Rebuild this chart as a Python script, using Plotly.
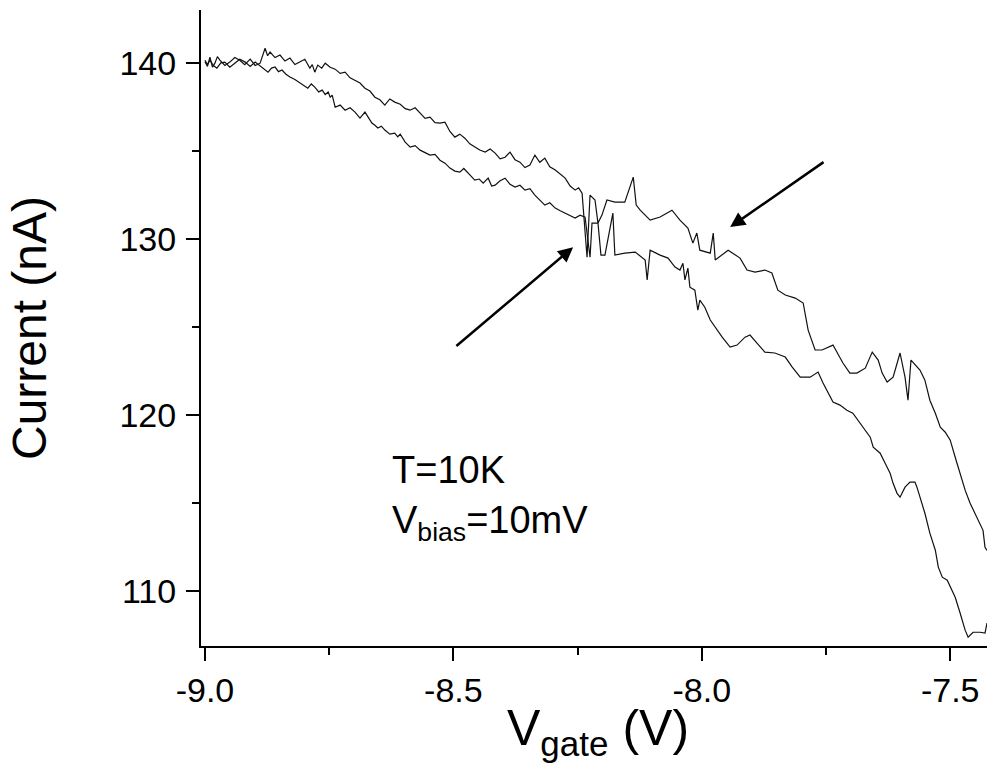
import plotly.graph_objects as go

# Upper branch of the sweep (gate voltage V, current nA)
upper_v = [-9.000, -8.995, -8.990, -8.985, -8.980, -8.975, -8.970, -8.960, -8.950, -8.940,
           -8.930, -8.920, -8.909, -8.899, -8.889, -8.884, -8.879, -8.874, -8.869, -8.859,
           -8.849, -8.839, -8.829, -8.819, -8.809, -8.799, -8.789, -8.784, -8.779, -8.773,
           -8.765, -8.758, -8.748, -8.738, -8.728, -8.718, -8.708, -8.698, -8.688, -8.678,
           -8.668, -8.658, -8.648, -8.638, -8.628, -8.618, -8.607, -8.597, -8.587, -8.577,
           -8.567, -8.557, -8.547, -8.537, -8.527, -8.517, -8.507, -8.497, -8.487, -8.477,
           -8.467, -8.457, -8.447, -8.436, -8.426, -8.416, -8.406, -8.396, -8.386, -8.376,
           -8.366, -8.356, -8.346, -8.336, -8.326, -8.316, -8.306, -8.295, -8.285, -8.275,
           -8.265, -8.255, -8.248, -8.241,
           -8.231, -8.225, -8.215, -8.209, -8.201,
           -8.191, -8.175, -8.155, -8.138, -8.132, -8.124, -8.104, -8.084, -8.060, -8.044,
           -8.028, -8.018, -8.010, -8.004, -7.983, -7.977, -7.973, -7.947, -7.923, -7.909,
           -7.893, -7.873, -7.859, -7.847, -7.832, -7.812, -7.796, -7.786, -7.772, -7.758,
           -7.736, -7.716, -7.702, -7.688, -7.671, -7.657, -7.645, -7.637, -7.627, -7.615,
           -7.601, -7.591, -7.585, -7.579, -7.561, -7.551, -7.541, -7.530, -7.520, -7.510,
           -7.500, -7.490, -7.480, -7.470, -7.460, -7.450, -7.444, -7.434, -7.430, -7.426]
upper_i = [140.06, 139.80, 140.32, 139.75, 139.98, 140.35, 140.15, 139.85, 140.04, 140.30,
           140.15, 139.90, 140.21, 139.85, 139.98, 140.40, 140.83, 140.40, 140.61, 140.30,
           140.44, 140.10, 140.27, 139.90, 140.04, 140.20, 139.70, 139.90, 139.47, 139.87,
           139.70, 139.98, 139.75, 139.64, 139.40, 139.47, 139.15, 139.02, 138.85, 138.56,
           138.40, 138.05, 137.90, 137.60, 137.95, 137.77, 137.65, 137.40, 137.31, 137.45,
           137.14, 136.85, 136.92, 136.60, 136.58, 136.63, 136.10, 135.78, 135.95, 135.72,
           135.40, 135.21, 135.05, 134.93, 135.10, 134.87, 134.55, 134.64, 134.93, 134.50,
           134.36, 134.05, 134.19, 134.76, 134.35, 134.59, 134.10, 133.91, 133.70, 133.45,
           133.00, 132.77, 132.90, 132.60,
           128.96, 132.49, 132.21, 130.90, 131.35,
           132.21, 132.09, 132.09, 133.51, 131.92, 131.63, 131.07, 131.24, 131.63, 131.07,
           130.61, 129.76, 130.33, 129.36, 129.19, 130.33, 128.80, 129.36, 128.91, 128.23,
           128.11, 128.23, 128.06, 127.09, 126.81, 126.64, 126.36, 124.82, 123.69, 123.69,
           123.97, 122.95, 122.38, 122.38, 122.66, 123.57, 123.12, 122.38, 121.87, 122.15,
           123.52, 122.15, 120.84, 123.12, 122.55, 121.98, 120.84, 120.10, 119.31, 119.02,
           118.57, 117.60, 116.69, 115.73, 114.99, 114.42, 114.02, 113.45, 112.48, 112.31]

# Lower branch of the sweep
lower_v = [-9.000, -8.995, -8.990, -8.983, -8.976, -8.968, -8.960, -8.950, -8.940, -8.930,
           -8.919, -8.909, -8.899, -8.892, -8.885, -8.879, -8.873, -8.866, -8.859, -8.852,
           -8.845, -8.837, -8.829, -8.819, -8.809, -8.801, -8.793, -8.786, -8.779, -8.771,
           -8.764, -8.758, -8.752, -8.748, -8.744, -8.738, -8.728, -8.718, -8.708, -8.698,
           -8.688, -8.678, -8.671, -8.664, -8.658, -8.652, -8.645, -8.638, -8.628, -8.618,
           -8.612, -8.607, -8.597, -8.587, -8.577, -8.567, -8.557, -8.547, -8.537, -8.527,
           -8.517, -8.507, -8.497, -8.487, -8.479, -8.471, -8.464, -8.457, -8.448, -8.440,
           -8.430, -8.423, -8.416, -8.406, -8.396, -8.386, -8.376, -8.366, -8.356, -8.346,
           -8.336, -8.326, -8.316, -8.306, -8.295, -8.285, -8.275, -8.265, -8.255, -8.245,
           -8.235, -8.225, -8.221,
           -8.209, -8.203, -8.195, -8.179, -8.175, -8.155, -8.134, -8.114, -8.110, -8.104,
           -8.084, -8.068, -8.054, -8.044, -8.038, -8.034, -8.028, -8.024, -8.014, -8.008,
           -8.004, -7.994, -7.983, -7.973, -7.959, -7.943, -7.929, -7.913, -7.903, -7.889,
           -7.873, -7.853, -7.832, -7.818, -7.802, -7.782, -7.766, -7.756, -7.746, -7.736,
           -7.722, -7.708, -7.696, -7.681, -7.671, -7.661, -7.655, -7.641, -7.631, -7.621,
           -7.615, -7.607, -7.601, -7.591, -7.581, -7.571, -7.567, -7.561, -7.551, -7.541,
           -7.530, -7.524, -7.516, -7.506, -7.500, -7.490, -7.480, -7.470, -7.464, -7.454,
           -7.440, -7.430, -7.426]
lower_i = [140.15, 139.90, 140.15, 139.85, 139.70, 140.00, 140.04, 139.75, 139.98, 140.20,
           140.04, 139.80, 140.04, 139.90, 139.76, 139.60, 139.47, 139.70, 139.76, 139.50,
           139.59, 139.35, 139.19, 139.05, 138.85, 138.70, 138.56, 138.80, 138.62, 138.35,
           138.45, 138.20, 138.34, 138.05, 138.17, 137.48, 137.60, 137.31, 137.45, 137.20,
           136.86, 137.20, 136.90, 136.58, 136.45, 136.30, 136.40, 136.18, 135.95, 136.01,
           135.80, 135.95, 135.50, 135.21, 135.30, 135.04, 134.90, 134.76, 134.80, 134.47,
           134.30, 134.02, 133.85, 133.79, 134.00, 133.79, 133.55, 133.34, 133.40, 133.17,
           133.45, 133.00, 133.05, 133.30, 133.45, 133.10, 132.94, 133.05, 132.77, 132.85,
           132.49, 132.20, 131.92, 132.05, 131.75, 131.60, 131.47, 131.30, 131.18, 131.35,
           131.24, 128.96, 130.90,
           130.90, 129.08, 129.08, 131.47, 129.08, 129.19, 129.25, 128.80, 127.67, 129.36,
           129.08, 128.91, 128.40, 128.23, 128.62, 127.67, 128.34, 127.26, 127.09, 125.95,
           126.52, 126.12, 125.39, 124.99, 124.42, 123.86, 123.97, 124.42, 124.54, 124.08,
           123.57, 123.52, 123.29, 122.72, 122.15, 122.15, 122.44, 121.81, 121.24, 120.73,
           120.56, 120.27, 120.10, 119.53, 119.14, 118.74, 118.17, 117.83, 117.26, 116.69,
           116.12, 115.55, 115.33, 115.90, 116.19, 116.19, 115.90, 115.33, 114.42, 113.29,
           112.32, 111.36, 110.79, 110.62, 110.22, 109.65, 108.74, 107.78, 107.38, 107.66,
           107.66, 107.61, 108.18]

x_tickvals = [-9.0, -8.5, -8.0, -7.5]
x_ticktext = ["-9.0", "-8.5", "-8.0", "-7.5"]
y_tickvals = [110, 120, 130, 140]
y_ticktext = ["110", "120", "130", "140"]

FONT = "Liberation Sans, Arial, sans-serif"

fig = go.Figure()
for xv, yv in [(upper_v, upper_i), (lower_v, lower_i)]:
    fig.add_trace(go.Scatter(x=xv, y=yv, mode="lines",
                             line=dict(color="#111111", width=1.2),
                             showlegend=False, hoverinfo="skip"))

axis_common = dict(showgrid=False, zeroline=False, showline=True, linecolor="black",
                   linewidth=2, ticks="outside", ticklen=13, tickwidth=2, tickcolor="black",
                   tickfont=dict(family=FONT, size=34, color="black"))

fig.update_xaxes(range=[-9.008, -7.426], tickvals=x_tickvals, ticktext=x_ticktext,
                 minor=dict(ticks="outside", ticklen=7, tickwidth=2, tickcolor="black",
                            dtick=0.25, tick0=-9.0, showgrid=False),
                 **axis_common)
fig.update_yaxes(range=[106.88, 143.0], tickvals=y_tickvals, ticktext=y_ticktext,
                 ticklabelstandoff=3,
                 minor=dict(ticks="outside", ticklen=7, tickwidth=2, tickcolor="black",
                            dtick=5, tick0=110, showgrid=False),
                 title=dict(text="Current (nA)",
                            font=dict(family=FONT, size=48, color="black"), standoff=58),
                 **axis_common)

annotations = [
    dict(x=0.3868, y=-0.082, xref="paper", yref="paper", text="V<sub>gate</sub> (V)",
         showarrow=False, xanchor="left", yanchor="top",
         font=dict(family=FONT, size=50, color="black")),
    dict(x=-8.628, y=116.87, xref="x", yref="y", text="T=10K", showarrow=False,
         xanchor="left", yanchor="middle", font=dict(family=FONT, size=38, color="black")),
    dict(x=-8.628, y=113.85, xref="x", yref="y", text="V<sub>bias</sub>=10mV", showarrow=False,
         xanchor="left", yanchor="middle", font=dict(family=FONT, size=38, color="black")),
    dict(x=-8.259, y=129.53, ax=-8.497, ay=123.85, xref="x", yref="y", axref="x", ayref="y",
         text="", showarrow=True, arrowhead=2, arrowsize=1.2, arrowwidth=2.5, arrowcolor="black"),
    dict(x=-7.943, y=130.67, ax=-7.752, ay=134.42, xref="x", yref="y", axref="x", ayref="y",
         text="", showarrow=True, arrowhead=2, arrowsize=1.2, arrowwidth=2.5, arrowcolor="black"),
]

fig.update_layout(width=987, height=772, margin=dict(l=201, r=0, t=10, b=126),
                  paper_bgcolor="white", plot_bgcolor="white", annotations=annotations)

fig.write_html("out.html")
